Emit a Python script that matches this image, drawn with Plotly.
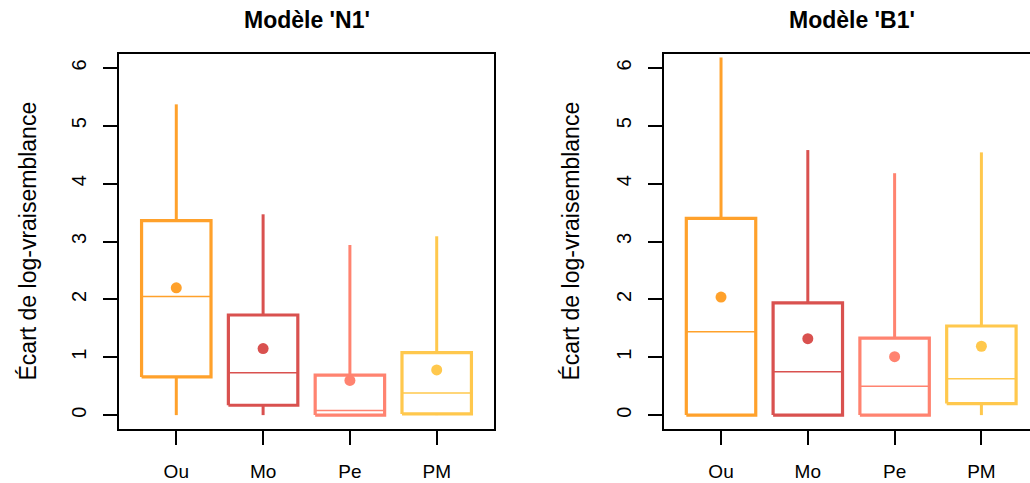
import plotly.graph_objects as go

categories = ["Ou", "Mo", "Pe", "PM"]
y_ticks = [0, 1, 2, 3, 4, 5, 6]

# Panel N1
n1_q1 = [0.66, 0.17, 0.00, 0.02]
n1_median = [2.05, 0.73, 0.08, 0.38]
n1_q3 = [3.36, 1.73, 0.69, 1.08]
n1_low = [0.00, 0.00, 0.00, 0.00]
n1_high = [5.37, 3.47, 2.94, 3.09]
n1_mean = [2.20, 1.15, 0.60, 0.78]

# Panel B1
b1_q1 = [0.00, 0.00, 0.00, 0.20]
b1_median = [1.44, 0.75, 0.50, 0.63]
b1_q3 = [3.40, 1.94, 1.33, 1.54]
b1_low = [0.00, 0.00, 0.00, 0.00]
b1_high = [6.18, 4.58, 4.18, 4.54]
b1_mean = [2.04, 1.32, 1.01, 1.19]

colors = ["#FFA12B", "#D9514F", "#FF8370", "#FFC84D"]

W, H = 1030, 483
FONT = "Liberation Sans, Arial, Helvetica, sans-serif"
half = 0.4

fig = go.Figure()

panels = [
    ("x", "y", n1_q1, n1_median, n1_q3, n1_low, n1_high, n1_mean),
    ("x2", "y2", b1_q1, b1_median, b1_q3, b1_low, b1_high, b1_mean),
]

for xa, ya, q1, med, q3, lo, hi, mn in panels:
    for i, cat in enumerate(categories):
        p = i + 1
        c = colors[i]
        # whiskers
        fig.add_trace(go.Scatter(
            x=[p, p, None, p, p], y=[lo[i], q1[i], None, q3[i], hi[i]],
            mode="lines", line=dict(color=c, width=3), xaxis=xa, yaxis=ya,
            showlegend=False, hoverinfo="skip"))
        # box
        fig.add_trace(go.Scatter(
            x=[p - half, p + half, p + half, p - half, p - half],
            y=[q1[i], q1[i], q3[i], q3[i], q1[i]],
            mode="lines", line=dict(color=c, width=3.2), xaxis=xa, yaxis=ya,
            showlegend=False, hoverinfo="skip"))
        # median
        fig.add_trace(go.Scatter(
            x=[p - half, p + half], y=[med[i], med[i]],
            mode="lines", line=dict(color=c, width=1.5), xaxis=xa, yaxis=ya,
            showlegend=False, hoverinfo="skip"))
        # mean
        fig.add_trace(go.Scatter(
            x=[p], y=[mn[i]], mode="markers",
            marker=dict(color=c, size=11, line=dict(width=0)),
            xaxis=xa, yaxis=ya, showlegend=False, name=cat))

# plot areas in pixels
L1, R1 = 119, 494
L2 = 664
TOP, BOT = 54, 429
ydom = [1 - BOT / H, 1 - TOP / H]

axis_common = dict(
    showgrid=False, zeroline=False, showline=True, linecolor="black",
    linewidth=1.5, ticks="outside", ticklen=14, tickwidth=1.5,
    tickcolor="black", automargin=False,
)
xfont = dict(family=FONT, size=19, color="black")
yfont = dict(family=FONT, size=20, color="black")

fig.update_layout(
    width=W, height=H,
    margin=dict(l=0, r=0, t=0, b=0),
    paper_bgcolor="white", plot_bgcolor="white",
    font=dict(family=FONT, color="black"),
    xaxis=dict(domain=[L1 / W, R1 / W], range=[0.34, 4.66],
               tickmode="array", tickvals=[1, 2, 3, 4], ticktext=categories,
               mirror=True, ticklabelstandoff=10, tickfont=xfont,
               **axis_common),
    yaxis=dict(domain=ydom, range=[-0.24, 6.24], tickmode="array",
               tickvals=y_ticks, ticktext=[str(v) for v in y_ticks],
               tickangle=-90, mirror=True, ticklabelstandoff=9,
               tickfont=yfont, **axis_common),
    xaxis2=dict(domain=[L2 / W, 1.0], range=[0.343, 4.56], anchor="y2",
                tickmode="array", tickvals=[1, 2, 3, 4], ticktext=categories,
                mirror=True, ticklabelstandoff=10, tickfont=xfont,
                **axis_common),
    yaxis2=dict(domain=ydom, range=[-0.24, 6.24], anchor="x2",
                tickmode="array", tickvals=y_ticks,
                ticktext=[str(v) for v in y_ticks],
                tickangle=-90, mirror=False, ticklabelstandoff=9,
                tickfont=yfont, **axis_common),
)

titles = [("Modèle 'N1'", (L1 + R1) / 2), ("Modèle 'B1'", 851.5)]
for txt, cx in titles:
    fig.add_annotation(text="<b>%s</b>" % txt, x=cx / W, y=1 - 20 / H,
                       xref="paper", yref="paper", showarrow=False,
                       xanchor="center", yanchor="middle",
                       font=dict(family=FONT, size=23, color="black"))

for cx in [27, 570]:
    fig.add_annotation(text="Écart de log-vraisemblance", x=cx / W,
                       y=sum(ydom) / 2, xref="paper", yref="paper",
                       showarrow=False, textangle=-90,
                       xanchor="center", yanchor="middle",
                       font=dict(family=FONT, size=23, color="black"))

fig.write_html("out.html",
               config={"displayModeBar": False},
               post_script="document.body.style.margin='0px';"
                           "document.body.style.overflow='hidden';")
